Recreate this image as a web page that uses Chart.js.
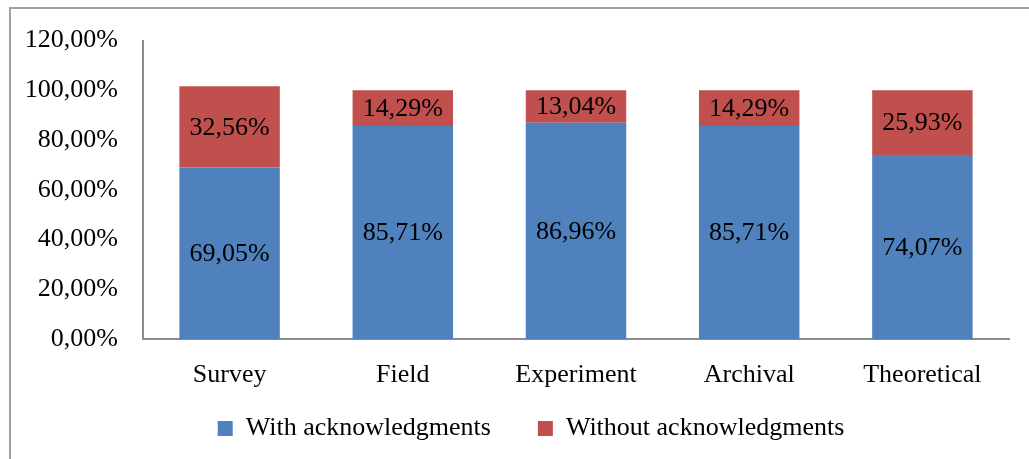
<!DOCTYPE html>
<html>
<head>
<meta charset="utf-8">
<script src="https://cdn.jsdelivr.net/npm/chart.js@4.4.1/dist/chart.umd.min.js"></script>
<style>
  html, body { margin: 0; padding: 0; background: #ffffff; }
  #wrap { position: relative; width: 1029px; height: 459px; }
</style>
</head>
<body>
<div id="wrap"><canvas id="chart" width="1029" height="459"></canvas></div>
<script>
// Research methods and share of papers with / without acknowledgments
const categories = ['Survey', 'Field', 'Experiment', 'Archival', 'Theoretical'];
const withAck = [69.05, 85.71, 86.96, 85.71, 74.07];
const withoutAck = [32.56, 14.29, 13.04, 14.29, 25.93];
const seriesNames = ['With acknowledgments', 'Without acknowledgments'];
const yTicks = [0, 20, 40, 60, 80, 100, 120];

const FONT = '"Liberation Serif", "Times New Roman", serif';
const pct = v => v.toFixed(2).replace('.', ',') + '%';

// Outer frame around the chart
const framePlugin = {
  id: 'frame',
  beforeDraw(chart) {
    const ctx = chart.ctx;
    ctx.save();
    ctx.strokeStyle = '#a0a0a0';
    ctx.lineWidth = 2;
    ctx.strokeRect(10, 8, 1040, 470);
    ctx.restore();
  }
};

// Place the legend row under the axis labels, centred a little right of the canvas middle
const legendPlacement = {
  id: 'legendPlacement',
  afterLayout(chart) {
    const lg = chart.legend;
    if (!lg) return;
    const h = lg.height;
    lg.left += 53;
    lg.top = 368.4;
    lg.bottom = lg.top + h;
  }
};

// Value labels centred in each bar segment
const valueLabels = {
  id: 'valueLabels',
  afterDatasetsDraw(chart) {
    const ctx = chart.ctx;
    ctx.save();
    ctx.font = '26px ' + FONT;
    ctx.fillStyle = '#000000';
    ctx.textAlign = 'center';
    ctx.textBaseline = 'middle';
    chart.data.datasets.forEach((ds, i) => {
      chart.getDatasetMeta(i).data.forEach((bar, j) => {
        const p = bar.getCenterPoint();
        ctx.fillText(pct(ds.data[j]), p.x, p.y + 1);
      });
    });
    ctx.restore();
  }
};

new Chart(document.getElementById('chart'), {
  type: 'bar',
  data: {
    labels: categories,
    datasets: [
      { label: seriesNames[0], data: withAck, backgroundColor: '#4f81bd' },
      { label: seriesNames[1], data: withoutAck, backgroundColor: '#c0504d' }
    ]
  },
  options: {
    responsive: false,
    animation: false,
    devicePixelRatio: 1,
    layout: { padding: { left: 0, right: 20, top: 37, bottom: -33.7 } },
    datasets: { bar: { categoryPercentage: 0.58, barPercentage: 1.0 } },
    scales: {
      x: {
        stacked: true,
        afterFit(scale) { scale.height = 70.5; },
        grid: { display: false, drawTicks: false },
        border: { display: true, color: '#8c8c8c', width: 2 },
        ticks: { color: '#000', font: { family: FONT, size: 26 }, padding: 20 }
      },
      y: {
        stacked: true,
        min: 0, max: 120,
        afterFit(scale) { scale.width = 143; },
        afterBuildTicks(scale) { scale.ticks = yTicks.map(v => ({ value: v })); },
        grid: { display: false, drawTicks: false },
        border: { display: true, color: '#8c8c8c', width: 2 },
        ticks: {
          color: '#000', padding: 25,
          font: { family: FONT, size: 26 },
          callback: v => pct(v)
        }
      }
    },
    plugins: {
      legend: {
        position: 'bottom',
        labels: {
          color: '#000',
          font: { family: FONT, size: 26 },
          boxWidth: 15, boxHeight: 15, padding: 47
        }
      },
      tooltip: { enabled: false }
    }
  },
  plugins: [framePlugin, legendPlacement, valueLabels]
});
</script>
</body>
</html>
